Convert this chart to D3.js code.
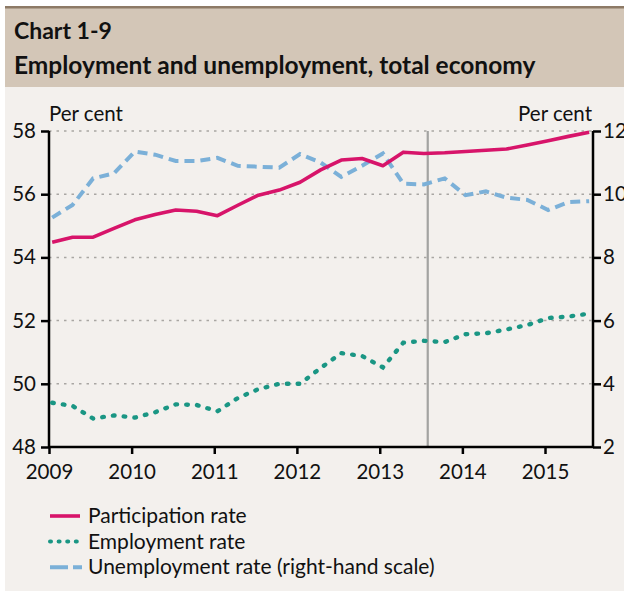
<!DOCTYPE html>
<html>
<head>
<meta charset="utf-8">
<script src="https://cdn.jsdelivr.net/npm/d3@7"></script>
<style>
html,body{margin:0;padding:0;background:#fff;}
svg{display:block;}
text{font-family:Lato,"Open Sans",sans-serif;fill:#111;}
</style>
</head>
<body>
<svg id="chart" width="624" height="591"></svg>
<script>
const quarters = ["2009Q1","2009Q2","2009Q3","2009Q4","2010Q1","2010Q2","2010Q3","2010Q4",
  "2011Q1","2011Q2","2011Q3","2011Q4","2012Q1","2012Q2","2012Q3","2012Q4",
  "2013Q1","2013Q2","2013Q3","2013Q4","2014Q1","2014Q2","2014Q3","2014Q4",
  "2015Q1","2015Q2","2015Q3"];
const participation = [54.48,54.64,54.64,54.92,55.19,55.36,55.50,55.46,55.32,55.65,55.97,56.13,56.38,56.77,
  57.08,57.13,56.90,57.33,57.29,57.31,57.35,57.39,57.43,57.56,57.69,57.83,57.96];
const employment = [49.40,49.30,48.90,49.00,48.93,49.10,49.35,49.33,49.13,49.55,49.83,50.00,50.00,50.50,
  50.97,50.88,50.52,51.30,51.36,51.32,51.57,51.60,51.72,51.86,52.08,52.13,52.22];
const unemployment = [9.26,9.66,10.50,10.66,11.35,11.25,11.05,11.05,11.15,10.90,10.87,10.84,11.27,11.00,
  10.55,10.90,11.29,10.33,10.31,10.50,9.97,10.09,9.89,9.82,9.50,9.75,9.78];
const leftTicks = [48,50,52,54,56,58];
const rightTicks = [2,4,6,8,10,12];
const yearTicks = [2009,2010,2011,2012,2013,2014,2015];
const titleLines = ["Chart 1-9","Employment and unemployment, total economy"];
const legendLabels = ["Participation rate","Employment rate","Unemployment rate (right-hand scale)"];

const svg = d3.select("#chart");
const W = 624, H = 591;
const qDate = s => new Date(+s.slice(0,4), (+s.slice(5)-1)*3, 15);

// background
svg.append("rect").attr("x",5).attr("y",7).attr("width",W-5).attr("height",H-7).attr("fill","#f3f0ed");
svg.append("rect").attr("x",5).attr("y",8).attr("width",W-5).attr("height",79).attr("fill","#d3c6b7");
svg.append("rect").attr("x",5).attr("y",6).attr("width",W-5).attr("height",2.5).attr("fill","#8d7a66");

svg.append("text").attr("x",14).attr("y",39).attr("font-size",23).attr("font-weight","bold").text(titleLines[0]);
svg.append("text").attr("x",14).attr("y",74).attr("font-size",24.5).attr("font-weight","bold").text(titleLines[1]);

const x = d3.scaleTime().domain([new Date(2009,0,1), new Date(2015,7,1)]).range([49,593]);
const yL = d3.scaleLinear().domain([48,58]).range([447,131]);
const yR = d3.scaleLinear().domain([2,12]).range([447,131]);

// gridlines
svg.append("g").selectAll("line").data(leftTicks.filter(d=>d>48)).join("line")
  .attr("x1",49).attr("x2",593).attr("y1",d=>yL(d)).attr("y2",d=>yL(d))
  .attr("stroke","#a9a6a3").attr("stroke-width",1.5).attr("stroke-dasharray","2.5,5");

// marker line
svg.append("line").attr("x1",x(new Date(2013,7,1))).attr("x2",x(new Date(2013,7,1)))
  .attr("y1",131).attr("y2",447).attr("stroke","#a3a3a1").attr("stroke-width",2.2);

// axes
const axL = svg.append("g").attr("transform","translate(49,0)")
  .call(d3.axisLeft(yL).tickValues(leftTicks).tickSize(8).tickPadding(5));
const axR = svg.append("g").attr("transform","translate(593,0)")
  .call(d3.axisRight(yR).tickValues(rightTicks).tickSize(8).tickPadding(2));
const axB = svg.append("g").attr("transform","translate(0,447)")
  .call(d3.axisBottom(x).tickValues(yearTicks.map(y=>new Date(y,0,1))).tickFormat(d3.timeFormat("%Y")).tickSize(7).tickPadding(10));
[axL,axR,axB].forEach(g=>{
  g.select(".domain").attr("stroke","#000").attr("stroke-width",2.5);
  g.selectAll(".tick line").attr("stroke","#000").attr("stroke-width",2.5);
  g.selectAll(".tick text").attr("font-size",20.5).attr("fill","#111").style("font-family","Lato,'Open Sans',sans-serif");
});
axB.select(".domain").attr("d","M49,0H593");
axL.select(".domain").attr("d","M0,131V447");
axR.select(".domain").attr("d","M0,131V447");

svg.append("text").attr("x",49).attr("y",121).attr("font-size",20.5).text("Per cent");
svg.append("text").attr("x",592).attr("y",121).attr("font-size",20.5).attr("text-anchor","end").text("Per cent");

const lineL = d3.line().x((d,i)=>x(qDate(quarters[i]))).y(d=>yL(d));
const lineR = d3.line().x((d,i)=>x(qDate(quarters[i]))).y(d=>yR(d));

svg.append("path").datum(unemployment).attr("d",lineR).attr("fill","none")
  .attr("stroke","#7bb0d8").attr("stroke-width",4).attr("stroke-dasharray","10,6");
svg.append("path").datum(employment).attr("d",lineL).attr("fill","none")
  .attr("stroke","#1a9684").attr("stroke-width",4.4).attr("stroke-linecap","round").attr("stroke-dasharray","1.6,9.2");
svg.append("path").datum(participation).attr("d",lineL).attr("fill","none")
  .attr("stroke","#d7146a").attr("stroke-width",3.6).attr("stroke-linejoin","round");

// legend
const lg = svg.append("g");
const rows = [
  {c:"#d7146a", w:3.6, dash:null, cap:"butt", x1:50, x2:80},
  {c:"#1a9684", w:4, dash:"1,7.6", cap:"round", x1:50, x2:83},
  {c:"#7bb0d8", w:4, dash:"18,5", cap:"butt", x1:50, x2:82}
];
rows.forEach((r,i)=>{
  const yy = 516 + i*25.6;
  const ln = lg.append("line").attr("x1",r.x1).attr("x2",r.x2).attr("y1",yy).attr("y2",yy)
    .attr("stroke",r.c).attr("stroke-width",r.w).attr("stroke-linecap",r.cap);
  if(r.dash) ln.attr("stroke-dasharray",r.dash);
  lg.append("text").attr("x",88).attr("y",yy+7).attr("font-size",21).text(legendLabels[i]);
});
</script>
</body>
</html>
